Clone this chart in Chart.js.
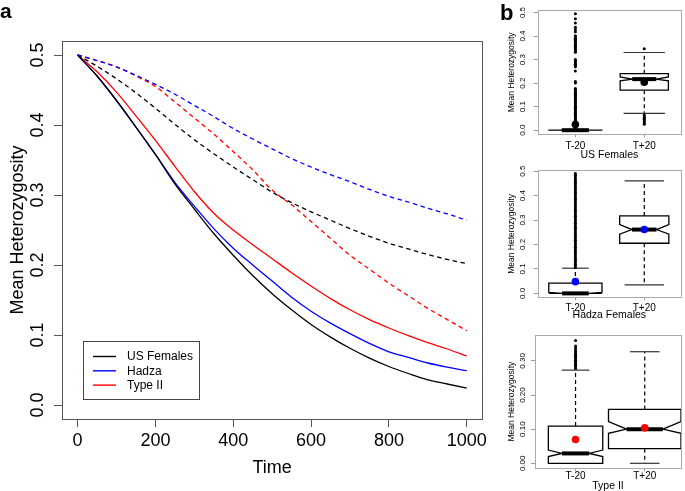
<!DOCTYPE html>
<html>
<head>
<meta charset="utf-8">
<script src="https://cdn.jsdelivr.net/npm/chart.js@4.4.0/dist/chart.umd.min.js"></script>
<style>
  html, body { margin: 0; padding: 0; background: #fff; }
  #wrap { position: relative; width: 685px; height: 491px; overflow: hidden; font-family: 'Liberation Sans', Arial, sans-serif; }
  canvas { position: absolute; }
  .tag { position: absolute; font-weight: bold; line-height: 1; }
</style>
</head>
<body>
<div id="wrap">
  <canvas id="main" width="490" height="491" style="left:0;top:0"></canvas>
  <canvas id="p1" width="185" height="160" style="left:500px;top:0"></canvas>
  <canvas id="p2" width="185" height="160" style="left:500px;top:160px"></canvas>
  <canvas id="p3" width="185" height="171" style="left:500px;top:320px"></canvas>
  <div class="tag" style="left:0;top:0;font-size:21px">a</div>
  <div class="tag" style="left:500px;top:2px;font-size:22px">b</div>
</div>
<script>
// panel a: mean heterozygosity over time
const timeSteps = [0, 50, 100, 150, 200, 250, 300, 350, 400, 450, 500, 550, 600, 650, 700, 750, 800, 850, 900, 950, 1000];
const usSolid    = [0.500, 0.470, 0.435, 0.397, 0.358, 0.316, 0.280, 0.245, 0.214, 0.185, 0.159, 0.136, 0.115, 0.097, 0.081, 0.067, 0.055, 0.045, 0.036, 0.030, 0.024];
const hadzaSolid = [0.500, 0.470, 0.435, 0.397, 0.358, 0.318, 0.284, 0.252, 0.224, 0.200, 0.177, 0.154, 0.134, 0.117, 0.102, 0.088, 0.076, 0.068, 0.060, 0.054, 0.049];
const type2Solid = [0.500, 0.476, 0.447, 0.413, 0.378, 0.341, 0.305, 0.274, 0.250, 0.229, 0.209, 0.189, 0.170, 0.152, 0.136, 0.122, 0.110, 0.099, 0.089, 0.080, 0.070];
const usDashed    = [0.500, 0.484, 0.466, 0.446, 0.424, 0.401, 0.379, 0.359, 0.340, 0.322, 0.304, 0.289, 0.276, 0.264, 0.252, 0.241, 0.231, 0.223, 0.215, 0.208, 0.202];
const hadzaDashed = [0.500, 0.492, 0.483, 0.471, 0.458, 0.444, 0.428, 0.412, 0.395, 0.380, 0.366, 0.352, 0.340, 0.329, 0.319, 0.308, 0.298, 0.290, 0.281, 0.273, 0.264];
const type2Dashed = [0.500, 0.492, 0.483, 0.470, 0.455, 0.433, 0.410, 0.387, 0.362, 0.336, 0.307, 0.286, 0.262, 0.238, 0.214, 0.194, 0.174, 0.156, 0.138, 0.122, 0.106];
const seriesNames = ['US Females', 'Hadza', 'Type II'];
const timeTicks = [0, 200, 400, 600, 800, 1000];
const hetTicks = [0, 0.1, 0.2, 0.3, 0.4, 0.5];

// panel b: box plots, groups T-20 / T+20
const boxGroups = ['T-20', 'T+20'];
const usQ1 = [0.000, 0.170];
const usMedian = [0.000, 0.217];
const usQ3 = [0.000, 0.240];
const usWhiskerLo = [0.000, 0.071];
const usWhiskerHi = [0.000, 0.330];
const usNotchLo = [0.000, 0.210];
const usNotchHi = [0.000, 0.226];
const usMean = [0.024, 0.204];
const usOutTm20 = [0.495, 0.473, 0.455, 0.437, 0.428, 0.418, 0.401, 0.396, 0.391, 0.386, 0.381, 0.376, 0.371, 0.366, 0.361, 0.356, 0.351, 0.346, 0.341, 0.336, 0.331,
  0.300, 0.295, 0.290, 0.285, 0.280, 0.275, 0.270, 0.251, 0.207, 0.200,
  0.177, 0.172, 0.167, 0.162, 0.157, 0.152, 0.147, 0.142, 0.137, 0.132, 0.127, 0.122, 0.117, 0.112, 0.107, 0.102, 0.097, 0.092,
  0.087, 0.082, 0.077, 0.072, 0.067, 0.062, 0.057, 0.052, 0.047, 0.042, 0.037, 0.032, 0.027, 0.022, 0.017, 0.012, 0.007, 0.002];
const usOutTp20 = [0.346, 0.065, 0.060, 0.055, 0.050, 0.045, 0.040, 0.035, 0.030, 0.025];

const hadzaQ1 = [0.000, 0.205];
const hadzaMedian = [0.000, 0.261];
const hadzaQ3 = [0.042, 0.317];
const hadzaWhiskerLo = [0.000, 0.035];
const hadzaWhiskerHi = [0.103, 0.460];
const hadzaNotchLo = [0.000, 0.242];
const hadzaNotchHi = [0.004, 0.281];
const hadzaMean = [0.048, 0.261];
const hadzaOutTm20 = [0.490, 0.483, 0.476, 0.469, 0.462, 0.455, 0.448, 0.441, 0.434, 0.427, 0.420, 0.413, 0.406, 0.399, 0.392, 0.385, 0.378, 0.371, 0.364,
  0.357, 0.350, 0.343, 0.336, 0.329, 0.322, 0.315, 0.308, 0.301, 0.294, 0.287, 0.280, 0.273, 0.266, 0.259, 0.252, 0.245, 0.238, 0.231,
  0.224, 0.217, 0.210, 0.203, 0.196, 0.189, 0.182, 0.175, 0.168, 0.161, 0.154, 0.147, 0.140, 0.133, 0.126, 0.119, 0.112, 0.106];
const hadzaOutTp20 = [];

const type2Q1 = [0.000, 0.043];
const type2Median = [0.029, 0.100];
const type2Q3 = [0.109, 0.158];
const type2WhiskerLo = [0.000, 0.000];
const type2WhiskerHi = [0.273, 0.327];
const type2NotchLo = [0.020, 0.088];
const type2NotchHi = [0.039, 0.122];
const type2Mean = [0.070, 0.104];
const type2OutTm20 = [0.360, 0.344, 0.338, 0.332, 0.327, 0.322, 0.318, 0.314, 0.310, 0.306, 0.302, 0.298, 0.294, 0.290, 0.286, 0.282, 0.278];
const type2OutTp20 = [];

const tickA = [0, 0.1, 0.2, 0.3, 0.4, 0.5];
const tickB = [0, 0.1, 0.2, 0.3];

const FONT = "'Liberation Sans', Arial, sans-serif";
Chart.defaults.font.family = FONT;
Chart.defaults.color = '#000';

const frame = color => ({
  id: 'frame',
  afterDraw(chart) {
    const { ctx, chartArea: a } = chart;
    ctx.save();
    ctx.strokeStyle = color;
    ctx.lineWidth = 1;
    ctx.strokeRect(Math.round(a.left) + 0.5, Math.round(a.top) + 0.5, Math.round(a.right - a.left), Math.round(a.bottom - a.top));
    ctx.restore();
  }
});

const legendBox = {
  id: 'legendBox',
  afterDraw(chart) {
    const ctx = chart.ctx;
    ctx.save();
    ctx.fillStyle = '#fff';
    ctx.fillRect(83.5, 341.5, 116, 58);
    ctx.strokeStyle = '#444';
    ctx.lineWidth = 1;
    ctx.strokeRect(83.5, 341.5, 116, 58);
    ctx.font = '12px ' + FONT;
    ctx.textBaseline = 'middle';
    chart.data.datasets.filter(d => d.inLegend).forEach((d, i) => {
      const y = 356.5 + i * 14.3;
      ctx.strokeStyle = d.borderColor;
      ctx.lineWidth = 1.4;
      ctx.beginPath();
      ctx.moveTo(93, y);
      ctx.lineTo(116, y);
      ctx.stroke();
      ctx.fillStyle = '#000';
      ctx.fillText(d.label, 127, y + 0.5);
    });
    ctx.restore();
  }
};

const pts = vals => timeSteps.map((t, i) => ({ x: t, y: vals[i] }));
const lineSet = (label, vals, color, dashed) => ({
  label, data: pts(vals), borderColor: color, borderWidth: 1.3,
  borderDash: dashed ? [4.5, 3.5] : [], inLegend: !dashed, pointRadius: 0, fill: false,
  cubicInterpolationMode: 'monotone'
});

new Chart(document.getElementById('main'), {
  type: 'line',
  data: {
    datasets: [
      lineSet(seriesNames[1], hadzaDashed, '#0000ff', true),
      lineSet(seriesNames[0], usDashed, '#000000', true),
      lineSet(seriesNames[2], type2Dashed, '#ff0000', true),
      lineSet(seriesNames[0], usSolid, '#000000', false),
      lineSet(seriesNames[1], hadzaSolid, '#0000ff', false),
      lineSet(seriesNames[2], type2Solid, '#ff0000', false)
    ]
  },
  options: {
    responsive: false,
    animation: false,
    layout: { padding: { top: 41, right: 6.3, left: 0, bottom: 0 } },
    plugins: { legend: { display: false }, tooltip: { enabled: false } },
    scales: {
      x: {
        type: 'linear', min: -40, max: 1040, bounds: 'data',
        afterBuildTicks: s => { s.ticks = timeTicks.map(v => ({ value: v })); },
        afterFit: s => { s.height = 72; },
        border: { display: false },
        grid: { drawOnChartArea: false, drawTicks: true, tickLength: 8, tickColor: '#555', color: '#555' },
        ticks: { font: { size: 18 }, padding: 3, maxRotation: 0, autoSkip: false, callback: v => String(v) },
        title: { display: true, text: 'Time', font: { size: 18 }, padding: { top: 0, bottom: 12 } }
      },
      y: {
        type: 'linear', min: -0.02, max: 0.52, bounds: 'data',
        afterBuildTicks: s => { s.ticks = hetTicks.map(v => ({ value: v })); },
        afterFit: s => { s.width = 62; },
        border: { display: false },
        grid: { drawOnChartArea: false, drawTicks: true, tickLength: 8, tickColor: '#555', color: '#555' },
        ticks: { font: { size: 18 }, minRotation: 90, maxRotation: 90, crossAlign: 'center', padding: 3.5, autoSkip: false,
          callback: v => v.toFixed(1) },
        title: { display: true, text: 'Mean Heterozygosity', font: { size: 18 }, padding: { top: 7, bottom: 0 } }
      }
    }
  },
  plugins: [frame('#555'), legendBox]
});

// box plot drawing from the stats arrays, positioned via the chart scales
const boxPlot = (stats, halfWidth, capHalf) => ({
  id: 'boxPlot',
  beforeDatasetsDraw(chart) {
    const { ctx, scales: { x, y } } = chart;
    const py = v => y.getPixelForValue(v);
    const seg = (x1, y1, x2, y2) => { ctx.beginPath(); ctx.moveTo(x1, y1); ctx.lineTo(x2, y2); ctx.stroke(); };
    ctx.save();
    ctx.strokeStyle = '#000';
    stats.q1.forEach((_, i) => {
      const cx = x.getPixelForValue(i + 1);
      const hw = x.getPixelForValue(i + 1 + halfWidth[i]) - cx;
      const cw = x.getPixelForValue(i + 1 + capHalf[i]) - cx;
      const nw = hw * 0.5;
      ctx.lineWidth = 1.2;
      ctx.setLineDash([4, 3]);
      seg(cx, py(stats.q3[i]), cx, py(stats.hi[i]));
      seg(cx, py(stats.q1[i]), cx, py(stats.lo[i]));
      ctx.setLineDash([]);
      ctx.strokeStyle = '#333';
      seg(cx - cw, py(stats.hi[i]), cx + cw, py(stats.hi[i]));
      seg(cx - cw, py(stats.lo[i]), cx + cw, py(stats.lo[i]));
      ctx.strokeStyle = '#000';
      ctx.beginPath();
      ctx.moveTo(cx - hw, py(stats.q1[i]));
      ctx.lineTo(cx - hw, py(stats.notchLo[i]));
      ctx.lineTo(cx - nw, py(stats.median[i]));
      ctx.lineTo(cx - hw, py(stats.notchHi[i]));
      ctx.lineTo(cx - hw, py(stats.q3[i]));
      ctx.lineTo(cx + hw, py(stats.q3[i]));
      ctx.lineTo(cx + hw, py(stats.notchHi[i]));
      ctx.lineTo(cx + nw, py(stats.median[i]));
      ctx.lineTo(cx + hw, py(stats.notchLo[i]));
      ctx.lineTo(cx + hw, py(stats.q1[i]));
      ctx.closePath();
      ctx.fillStyle = '#fff';
      ctx.fill();
      ctx.lineWidth = 1.3;
      ctx.stroke();
      ctx.lineWidth = 4;
      seg(cx - nw, py(stats.median[i]), cx + nw, py(stats.median[i]));
    });
    ctx.restore();
  }
});

const panelDefs = [
  { id: 'p1', title: 'US Females', meanColor: '#000000',
    stats: { q1: usQ1, median: usMedian, q3: usQ3, lo: usWhiskerLo, hi: usWhiskerHi, notchLo: usNotchLo, notchHi: usNotchHi, mean: usMean, out: [usOutTm20, usOutTp20] },
    yTicks: tickA, digits: 1, yRange: [-0.0175, 0.509], xRange: [0.453, 2.533],
    pad: { top: 5, right: 1.7 }, yWidth: 37.7, xHeight: 25.7, yTickPad: 5.6, xTickPad: 3.2, titlePad: -1.2,
    halfWidth: [0.393, 0.35], capHalf: [0.2, 0.3] },
  { id: 'p2', title: 'Hadza Females', meanColor: '#0000ff',
    stats: { q1: hadzaQ1, median: hadzaMedian, q3: hadzaQ3, lo: hadzaWhiskerLo, hi: hadzaWhiskerHi, notchLo: hadzaNotchLo, notchHi: hadzaNotchHi, mean: hadzaMean, out: [hadzaOutTm20, hadzaOutTp20] },
    yTicks: tickA, digits: 1, yRange: [-0.016, 0.503], xRange: [0.453, 2.533],
    pad: { top: 5, right: 1.7 }, yWidth: 37.7, xHeight: 22.7, yTickPad: 5.6, xTickPad: 1.6, titlePad: -1.6,
    halfWidth: [0.386, 0.357], capHalf: [0.193, 0.286] },
  { id: 'p3', title: 'Type II', meanColor: '#ff0000',
    stats: { q1: type2Q1, median: type2Median, q3: type2Q3, lo: type2WhiskerLo, hi: type2WhiskerHi, notchLo: type2NotchLo, notchHi: type2NotchHi, mean: type2Mean, out: [type2OutTm20, type2OutTp20] },
    yTicks: tickB, digits: 2, yRange: [-0.0146, 0.376], xRange: [0.414, 2.524],
    pad: { top: 15, right: 2.3 }, yWidth: 35, xHeight: 22.7, yTickPad: 0.7, xTickPad: -1.2, titlePad: -1.2,
    halfWidth: [0.393, 0.524], capHalf: [0.2, 0.214] }
];

panelDefs.forEach(p => {
  const outPts = p.stats.out.flatMap((vals, i) => vals.map(v => ({ x: i + 1, y: v })));
  const meanPts = p.stats.mean.map((v, i) => ({ x: i + 1, y: v }));
  new Chart(document.getElementById(p.id), {
    type: 'scatter',
    data: {
      datasets: [
        { data: outPts, pointRadius: 1.5, pointBackgroundColor: '#000', pointBorderWidth: 0 },
        { data: meanPts, pointRadius: 3.8, pointBackgroundColor: p.meanColor, pointBorderWidth: 0 }
      ]
    },
    options: {
      responsive: false,
      animation: false,
      layout: { padding: { top: p.pad.top, right: p.pad.right, left: 0, bottom: 0 } },
      plugins: { legend: { display: false }, tooltip: { enabled: false } },
      scales: {
        x: {
          type: 'linear', min: p.xRange[0], max: p.xRange[1], bounds: 'data',
          afterBuildTicks: s => { s.ticks = boxGroups.map((g, i) => ({ value: i + 1 })); },
          afterFit: s => { s.height = p.xHeight; },
          border: { display: false },
          grid: { drawOnChartArea: false, drawTicks: true, tickLength: 3, tickColor: '#999', color: '#999' },
          ticks: { font: { size: 10 }, padding: p.xTickPad, maxRotation: 0, autoSkip: false,
            callback: v => boxGroups[Math.round(v) - 1] },
          title: { display: true, text: p.title, font: { size: 10.5 }, padding: { top: 0, bottom: p.titlePad } }
        },
        y: {
          type: 'linear', min: p.yRange[0], max: p.yRange[1], bounds: 'data',
          afterBuildTicks: s => { s.ticks = p.yTicks.map(v => ({ value: v })); },
          afterFit: s => { s.width = p.yWidth; },
          border: { display: false },
          grid: { drawOnChartArea: false, drawTicks: true, tickLength: 4, tickColor: '#999', color: '#999' },
          ticks: { font: { size: 8 }, minRotation: 90, maxRotation: 90, crossAlign: 'center', padding: p.yTickPad, autoSkip: false,
            callback: v => v.toFixed(p.digits) },
          title: { display: true, text: 'Mean Heterozygosity', font: { size: 8.5 }, padding: { top: 6.6, bottom: 0 } }
        }
      }
    },
    plugins: [boxPlot(p.stats, p.halfWidth, p.capHalf), frame('#aaa')]
  });
});
</script>
</body>
</html>
